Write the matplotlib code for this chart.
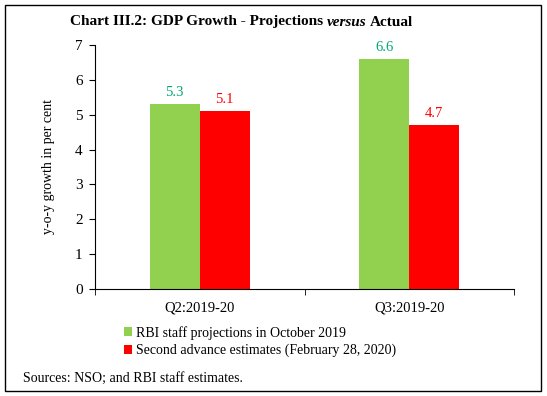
import numpy as np
import matplotlib.pyplot as plt
from matplotlib.patches import Rectangle

categories = ['Q2:2019-20', 'Q3:2019-20']
projections = [5.3, 6.6]
actual = [5.1, 4.7]
series_names = ['RBI staff projections in October 2019',
                'Second advance estimates (February 28, 2020)']
yticks = [0, 1, 2, 3, 4, 5, 6, 7]

plt.rcParams['font.family'] = ['Liberation Serif', 'DejaVu Serif']

fig = plt.figure(figsize=(5.47, 3.96), dpi=100)
ax = fig.add_axes([95 / 547, 1 - 289 / 396, (514 - 95) / 547, (289 - 45) / 396])

x = np.arange(len(categories))
w = 0.239
b1 = ax.bar(x - w / 2, projections, w, color='#92D050', label=series_names[0])
b2 = ax.bar(x + w / 2, actual, w, color='#FF0000', label=series_names[1])

for rect, v in zip(b1, projections):
    ax.text(rect.get_x() + rect.get_width() / 2, v + 0.14, '%.1f' % v,
            ha='center', va='bottom', color='#00A86B', fontsize=10.5)
for rect, v in zip(b2, actual):
    ax.text(rect.get_x() + rect.get_width() / 2, v + 0.14, '%.1f' % v,
            ha='center', va='bottom', color='#FF0000', fontsize=10.5)

ax.set_xlim(-0.5, 1.5)
ax.set_ylim(0, 7)
ax.set_yticks(yticks)
ax.set_xticks(x)
ax.set_xticklabels(categories)
ax.set_xticks([-0.5, 0.5, 1.5], minor=True)
ax.tick_params(axis='x', which='major', length=0, labelsize=10.5, pad=9)
ax.tick_params(axis='x', which='minor', length=4, direction='out')
ax.tick_params(axis='y', length=4, direction='out', labelsize=11, pad=5)
for s in ['top', 'right']:
    ax.spines[s].set_visible(False)
ax.set_ylabel('y-o-y growth in per cent', fontsize=10, labelpad=14)

ax.legend(loc='upper left', bbox_to_anchor=(117 / 547, 1 - 319 / 396),
          bbox_transform=fig.transFigure, frameon=False, fontsize=10,
          handlelength=0.6, handleheight=0.6, handletextpad=0.3,
          labelspacing=0.3, borderpad=0)

fig.text(70 / 547, 1 - 22 / 396, 'Chart III.2: GDP Growth - Projections ',
         fontsize=11, fontweight='bold', va='center')
fig.canvas.draw()
r = fig.texts[0].get_window_extent()
t2 = fig.text(r.x1 / 547, 1 - 22 / 396, 'versus', fontsize=11,
              fontweight='bold', fontstyle='italic', va='center')
r2 = t2.get_window_extent()
fig.text(r2.x1 / 547 + 0.006, 1 - 22 / 396, 'Actual', fontsize=11,
         fontweight='bold', va='center')

fig.text(23 / 547, 1 - 378 / 396, 'Sources: NSO; and RBI staff estimates.',
         fontsize=10, va='center')

fig.patches.append(Rectangle((5 / 547, 5 / 396), 536 / 547, 386 / 396,
                             transform=fig.transFigure, fill=False,
                             edgecolor='black', linewidth=1))

fig.savefig('out.png', dpi=100)
